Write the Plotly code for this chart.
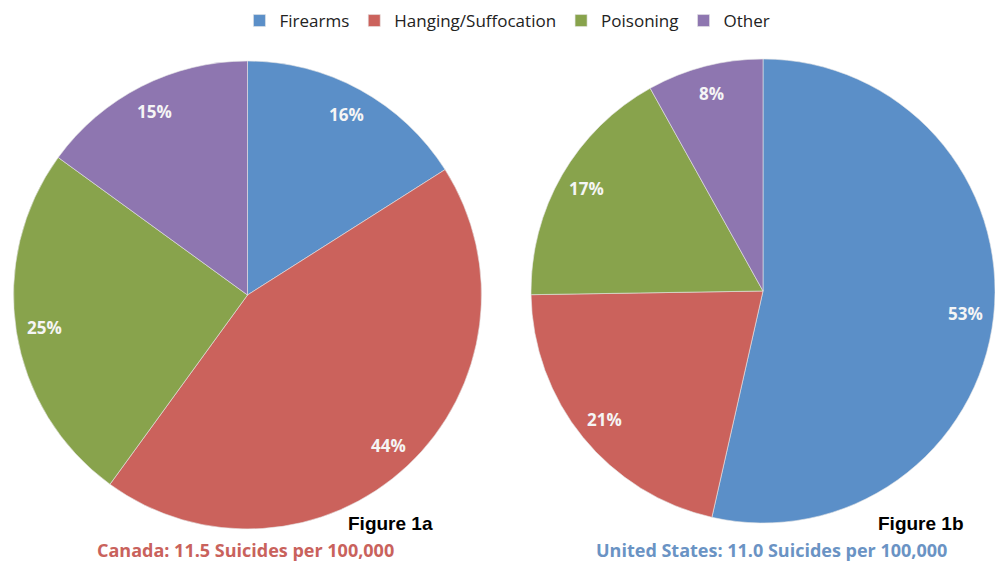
import plotly.graph_objects as go
import math

categories = ["Firearms", "Hanging/Suffocation", "Poisoning", "Other"]
canada_values = [16, 44, 25, 15]
us_values = [53, 21, 17, 8]
colors = ["#5B8FC8", "#CB625C", "#88A34C", "#8E76B0"]

W, H = 995, 563

def px_x(a, b):
    return [a / W, min(b / W, 1.0)]

def px_y(top, bottom):
    return [1 - bottom / H, 1 - top / H]

label_font = dict(family="Open Sans", size=17, color="#F5F5F5")

pies = [
    ("Canada", canada_values, px_x(13, 482), px_y(61, 529)),
    ("United States", us_values, px_x(531, 995), px_y(59, 523)),
]

fig = go.Figure()
annotations = []
for name, vals, dx, dy in pies:
    fig.add_trace(go.Pie(
        labels=categories, values=vals, sort=False, direction="clockwise", rotation=0,
        marker=dict(colors=colors, line=dict(color="#E6E6E6", width=0.6)),
        textinfo="none", hoverinfo="label+value",
        domain=dict(x=dx, y=dy), name=name,
    ))
    # label positions near the rim, along each slice's bisector (Excel "best fit" look)
    wpx = (dx[1] - dx[0]) * W
    hpx = (dy[1] - dy[0]) * H
    R = min(wpx, hpx) / 2
    cx = (dx[0] + dx[1]) / 2 * W
    cy = (1 - (dy[0] + dy[1]) / 2) * H
    total = sum(vals)
    cum = 0
    for v in vals:
        mid = (cum + v / 2) / total * 2 * math.pi
        cum += v
        lx = cx + 0.88 * R * math.sin(mid)
        ly = cy - 0.88 * R * math.cos(mid)
        annotations.append(dict(text=f"<b>{v}%</b>", x=lx / W, y=1 - ly / H,
                                xref="paper", yref="paper", xanchor="center", yanchor="middle",
                                showarrow=False, font=label_font))

annotations += [
    dict(text="<b>Figure 1a</b>", x=390 / W, y=1 - 523 / H, xref="paper", yref="paper",
         xanchor="center", yanchor="middle",
         showarrow=False, font=dict(family="Liberation Sans", size=19, color="black")),
    dict(text="<b>Figure 1b</b>", x=921 / W, y=1 - 523 / H, xref="paper", yref="paper",
         xanchor="center", yanchor="middle",
         showarrow=False, font=dict(family="Liberation Sans", size=19, color="black")),
    dict(text="<b>Canada: 11.5 Suicides per 100,000</b>", x=245 / W, y=1 - 550 / H,
         xref="paper", yref="paper", xanchor="center", yanchor="middle", showarrow=False,
         font=dict(family="Open Sans", size=18, color="#C9625C")),
    dict(text="<b>United States: 11.0 Suicides per 100,000</b>", x=771 / W, y=1 - 550 / H,
         xref="paper", yref="paper", xanchor="center", yanchor="middle", showarrow=False,
         font=dict(family="Open Sans", size=18, color="#6A93C4")),
]

fig.update_layout(
    width=W, height=H,
    margin=dict(l=0, r=0, t=0, b=0),
    paper_bgcolor="white", plot_bgcolor="white",
    showlegend=True,
    legend=dict(orientation="h", x=0.51, xanchor="center", y=1 - 3 / H, yanchor="top",
                font=dict(family="Open Sans", size=17, color="#222222"),
                itemclick=False, traceorder="normal"),
    annotations=annotations,
)

fig.write_html("out.html")
